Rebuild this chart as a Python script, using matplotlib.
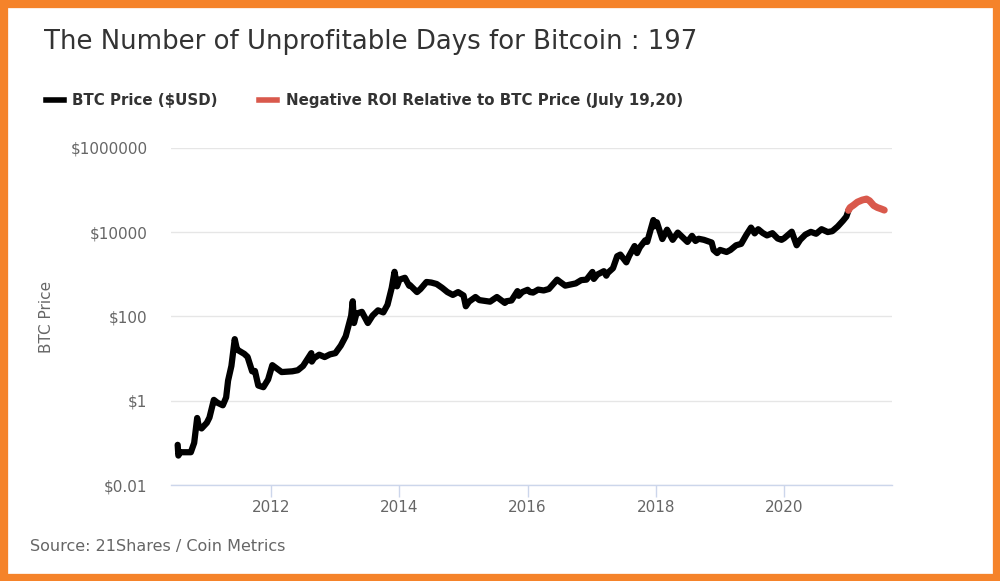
import pandas as pd
import matplotlib
matplotlib.use("Agg")
import matplotlib.pyplot as plt
import matplotlib.dates as mdates
import matplotlib.ticker as mticker
from matplotlib.lines import Line2D
from matplotlib.patches import Rectangle

# BTC price (log scale), roughly daily spikes kept
btc_dates = ['2010-07-18', '2010-07-22', '2010-08-01', '2010-09-01', '2010-10-01', '2010-10-20',
             '2010-11-06', '2010-11-15', '2010-12-01', '2010-12-31', '2011-01-15', '2011-02-09',
             '2011-03-01', '2011-04-01', '2011-04-20', '2011-05-01', '2011-05-20', '2011-06-08',
             '2011-06-20', '2011-07-01', '2011-08-01', '2011-08-20', '2011-09-15', '2011-10-01',
             '2011-10-20', '2011-11-18', '2011-12-15', '2012-01-08', '2012-02-01', '2012-03-01',
             '2012-04-01', '2012-05-01', '2012-06-01', '2012-07-01', '2012-08-17', '2012-08-20',
             '2012-09-01', '2012-10-01', '2012-11-01', '2012-12-01', '2013-01-01', '2013-02-01',
             '2013-03-01', '2013-04-01', '2013-04-10', '2013-04-17', '2013-05-01', '2013-06-01',
             '2013-07-05', '2013-08-01', '2013-09-01', '2013-10-01', '2013-10-25', '2013-11-18',
             '2013-12-04', '2013-12-18', '2014-01-01', '2014-02-01', '2014-02-25', '2014-03-01',
             '2014-04-11', '2014-05-01', '2014-06-04', '2014-07-01', '2014-08-01', '2014-09-01',
             '2014-10-01', '2014-11-01', '2014-12-01', '2015-01-01', '2015-01-14', '2015-02-01',
             '2015-03-10', '2015-04-01', '2015-05-01', '2015-06-01', '2015-07-10', '2015-08-24',
             '2015-09-01', '2015-10-01', '2015-11-04', '2015-11-11', '2015-12-01', '2016-01-01',
             '2016-01-15', '2016-02-01', '2016-03-01', '2016-04-01', '2016-05-01', '2016-06-17',
             '2016-07-01', '2016-08-02', '2016-09-01', '2016-10-01', '2016-11-01', '2016-12-01',
             '2017-01-04', '2017-01-12', '2017-02-01', '2017-03-10', '2017-03-24', '2017-04-01',
             '2017-05-01', '2017-05-25', '2017-06-12', '2017-07-16', '2017-08-01', '2017-09-01',
             '2017-09-15', '2017-10-01', '2017-11-01', '2017-11-12', '2017-12-17', '2017-12-22',
             '2018-01-06', '2018-02-06', '2018-03-05', '2018-04-06', '2018-05-05', '2018-06-29',
             '2018-07-25', '2018-08-14', '2018-09-01', '2018-10-01', '2018-11-14', '2018-11-25',
             '2018-12-15', '2019-01-01', '2019-02-07', '2019-03-01', '2019-04-02', '2019-05-01',
             '2019-05-30', '2019-06-26', '2019-07-17', '2019-08-06', '2019-09-01', '2019-09-25',
             '2019-10-26', '2019-11-25', '2019-12-17', '2020-01-01', '2020-02-13', '2020-03-12',
             '2020-04-01', '2020-05-01', '2020-06-01', '2020-07-01', '2020-08-01', '2020-09-05',
             '2020-10-01', '2020-11-01', '2020-12-01', '2020-12-20', '2021-01-01']
btc_price = [0.09, 0.05, 0.06, 0.06, 0.06, 0.10,
             0.39, 0.25, 0.22, 0.30, 0.40, 1.05,
             0.90, 0.78, 1.2, 3.0, 6.7, 29.0,
             17, 15.5, 13, 11, 5, 5.1,
             2.3, 2.1, 3.2, 7.0, 5.9, 4.8,
             4.9, 5.0, 5.3, 6.7, 13.5, 8.5,
             10.2, 12.4, 10.9, 12.6, 13.5, 20.4,
             34, 104, 230, 70, 117, 129,
             70, 105, 140, 125, 190, 480,
             1150, 520, 750, 830, 540, 560,
             380, 450, 660, 640, 590, 480,
             380, 325, 380, 315, 175, 225,
             290, 245, 235, 225, 290, 210,
             230, 240, 400, 310, 380, 430,
             380, 370, 435, 415, 450, 750,
             675, 540, 575, 610, 730, 750,
             1140, 780, 990, 1190, 930, 1080,
             1400, 2700, 2950, 1930, 2750, 4700,
             3200, 4400, 6450, 5900, 19500, 13800,
             17200, 6900, 11500, 6600, 9800, 5900,
             8200, 6200, 7000, 6600, 5700, 3800,
             3200, 3800, 3400, 3800, 4900, 5300,
             8600, 12900, 9400, 11800, 9600, 8400,
             9500, 7100, 6600, 7200, 10300, 4900,
             6600, 8800, 10200, 9200, 11800, 10100,
             10600, 13700, 18800, 23500, 33000]

# red part: days with negative ROI relative to the July 19/20 price
neg_dates = ['2021-01-01', '2021-01-10', '2021-01-30', '2021-02-21', '2021-03-20', '2021-04-14',
             '2021-05-01', '2021-05-25', '2021-06-15', '2021-07-05', '2021-07-24']
neg_price = [33000, 38500, 44000, 52000, 58000, 61500,
             56000, 43000, 38500, 36000, 33500]

black = '#000000'
red = '#D9594C'
txt = '#333333'
grey = '#666666'

fig = plt.figure(figsize=(10, 5.81), dpi=100)
ax = fig.add_axes([0.171, 0.1652, 0.721, 0.5801])

x1 = pd.to_datetime(btc_dates)
x2 = pd.to_datetime(neg_dates)
ax.plot(x1, btc_price, color=black, lw=4.5, solid_joinstyle='round', solid_capstyle='round')
ax.plot(x2, neg_price, color=red, lw=5, solid_joinstyle='round', solid_capstyle='round')

ax.set_yscale('log')
ax.set_ylim(0.01, 1e6)
ax.set_yticks([0.01, 1, 100, 10000, 1000000])
ax.yaxis.set_minor_locator(mticker.NullLocator())
ax.set_yticklabels(['$0.01', '$1', '$100', '$10000', '$1000000'])
ax.set_xlim(pd.Timestamp('2010-06-10'), pd.Timestamp('2021-09-06'))
ax.xaxis.set_major_locator(mdates.YearLocator(2))
ax.xaxis.set_major_formatter(mdates.DateFormatter('%Y'))

for s in ['top', 'right', 'left']:
    ax.spines[s].set_visible(False)
ax.spines['bottom'].set_color('#ccd6eb')
ax.spines['bottom'].set_linewidth(1)
ax.grid(axis='y', color='#e6e6e6', lw=1)
ax.set_axisbelow(True)
ax.tick_params(axis='y', length=0, pad=17, labelsize=11, labelcolor=grey)
ax.tick_params(axis='x', length=8.5, width=1, color='#ccd6eb', pad=2, labelsize=11, labelcolor=grey)
ax.set_ylabel('BTC Price', fontsize=11, color=grey, labelpad=12)

fig.text(0.044, 1 - 42 / 581, 'The Number of Unprofitable Days for Bitcoin : 197',
         fontsize=18.7, color=txt, va='center', ha='left')

handles = [Line2D([], [], color=black, lw=4), Line2D([], [], color=red, lw=4)]
fig.legend(handles, ['BTC Price ($USD)', 'Negative ROI Relative to BTC Price (July 19,20)'],
           loc='center left', bbox_to_anchor=(0.032, 1 - 101 / 581), ncol=2, frameon=False,
           prop={'weight': 'bold', 'size': 10.8}, handlelength=1.2, handletextpad=0.55,
           columnspacing=2.8, labelcolor=txt)

fig.text(0.03, 1 - 547 / 581, 'Source: 21Shares / Coin Metrics', fontsize=11.5,
         color=grey, va='center', ha='left')

# orange frame round the picture
fig.patches.append(Rectangle((0, 0), 1, 1, transform=fig.transFigure, fill=False,
                             edgecolor='#F5832A', lw=11, zorder=10))

fig.savefig('out.png', dpi=100, facecolor='white')
